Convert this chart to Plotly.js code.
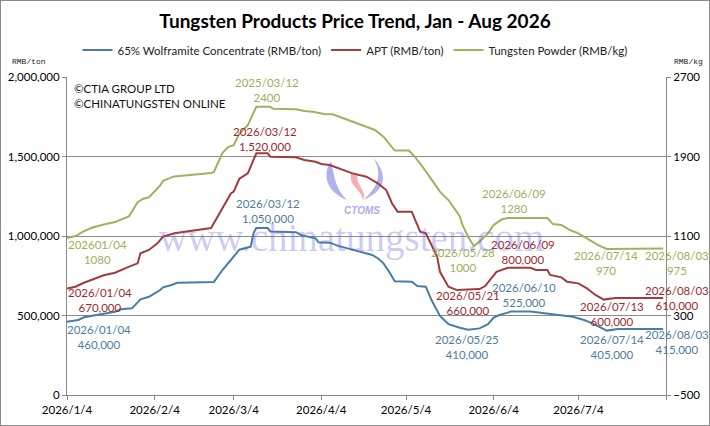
<!DOCTYPE html>
<html>
<head>
<meta charset="utf-8">
<script src="https://cdn.plot.ly/plotly-3.0.1.min.js"></script>
<style>
  html, body { margin: 0; padding: 0; background: #fff; }
  #wrap { position: relative; width: 710px; height: 426px; }
  #chart { width: 710px; height: 426px; }
  #frame { position: absolute; left: 0; top: 0; width: 708px; height: 424px;
           border: 1px solid #8a8a8a; pointer-events: none; }
</style>
</head>
<body>
<div id="wrap">
  <div id="chart"></div>
  <div id="frame"></div>
</div>
<script>
// 65% 黑钨精矿 (RMB/ton)
const wolfDates = ["2026-01-04","2026-01-08","2026-01-10","2026-01-17","2026-01-21","2026-01-23","2026-01-27",
  "2026-01-30","2026-02-02","2026-02-06","2026-02-07","2026-02-10","2026-02-12","2026-02-25","2026-02-28",
  "2026-03-03","2026-03-06","2026-03-10","2026-03-11","2026-03-12","2026-03-16","2026-03-17","2026-03-26",
  "2026-03-28","2026-04-02","2026-04-03","2026-04-07","2026-04-10","2026-04-15","2026-04-20","2026-04-22",
  "2026-04-24","2026-04-26","2026-04-28","2026-04-30","2026-05-06","2026-05-08","2026-05-11","2026-05-13",
  "2026-05-16","2026-05-19","2026-05-23","2026-05-26","2026-05-30","2026-06-02","2026-06-04","2026-06-06",
  "2026-06-09","2026-06-10","2026-06-17","2026-06-22","2026-06-27","2026-07-02","2026-07-06","2026-07-09",
  "2026-07-14","2026-07-18","2026-08-03"];
const wolfPrice = [460000,472000,489000,509000,524000,539000,545000,
  602000,618000,660000,677000,692000,706000,711000,786000,
  849000,914000,933000,1017000,1050000,1050000,1029000,1024000,
  1005000,985000,960000,958000,938000,915000,891000,881000,
  860000,828000,775000,715000,712000,685000,681000,597000,
  497000,446000,423000,410000,419000,445000,487000,503000,
  518000,525000,525000,514000,503000,492000,472000,451000,
  405000,415000,415000];

// APT (RMB/ton)
const aptDates = ["2026-01-04","2026-01-07","2026-01-10","2026-01-13","2026-01-17","2026-01-21","2026-01-23",
  "2026-01-26","2026-01-29","2026-01-30","2026-02-02","2026-02-05","2026-02-07","2026-02-11","2026-02-24",
  "2026-02-28","2026-03-03","2026-03-04","2026-03-06","2026-03-09","2026-03-12","2026-03-16","2026-03-17",
  "2026-03-26","2026-03-29","2026-04-02","2026-04-04","2026-04-07","2026-04-10","2026-04-15","2026-04-20",
  "2026-04-24","2026-04-27","2026-04-29","2026-05-01","2026-05-06","2026-05-09","2026-05-11","2026-05-15",
  "2026-05-16","2026-05-19","2026-05-22","2026-05-30","2026-06-01","2026-06-05","2026-06-09","2026-06-17",
  "2026-06-19","2026-06-23","2026-06-24","2026-06-28","2026-06-30","2026-07-04","2026-07-07","2026-07-10",
  "2026-07-13","2026-07-17","2026-08-03"];
const aptPrice = [670000,681000,706000,727000,753000,769000,786000,
  807000,828000,891000,912000,954000,996000,1017000,1050000,
  1174000,1268000,1279000,1360000,1394000,1520000,1520000,1499000,
  1495000,1478000,1467000,1453000,1446000,1426000,1394000,1373000,
  1331000,1289000,1206000,1153000,1153000,1027000,1017000,870000,
  775000,681000,660000,666000,685000,775000,800000,800000,
  786000,786000,755000,740000,712000,702000,671000,629000,
  600000,610000,610000];

// 钨粉 (RMB/kg)，右轴
const powderDates = ["2026-01-04","2026-01-07","2026-01-10","2026-01-13","2026-01-17","2026-01-21","2026-01-26",
  "2026-01-29","2026-01-31","2026-02-02","2026-02-06","2026-02-07","2026-02-10","2026-02-11","2026-02-24",
  "2026-02-25","2026-02-28","2026-03-02","2026-03-04","2026-03-06","2026-03-09","2026-03-12","2026-03-17",
  "2026-03-18","2026-03-26","2026-03-29","2026-04-01","2026-04-05","2026-04-08","2026-04-12","2026-04-17",
  "2026-04-19","2026-04-23","2026-04-26","2026-04-30","2026-05-05","2026-05-07","2026-05-10","2026-05-13",
  "2026-05-16","2026-05-19","2026-05-23","2026-05-24","2026-05-26","2026-05-28","2026-05-30","2026-06-02",
  "2026-06-04","2026-06-07","2026-06-09","2026-06-23","2026-06-25","2026-06-28","2026-07-01","2026-07-04",
  "2026-07-08","2026-07-11","2026-07-14","2026-08-03"];
const powderPrice = [1080,1100,1150,1185,1215,1240,1300,
  1440,1475,1490,1610,1655,1690,1700,1735,
  1745,1935,1995,2015,2130,2215,2400,2400,
  2380,2375,2358,2350,2328,2325,2284,2230,
  2215,2167,2100,1960,1960,1900,1790,1664,
  1546,1462,1300,1210,1090,1000,1043,1127,
  1211,1268,1280,1280,1220,1211,1160,1127,
  1060,1009,970,975];

const tickDates = ["2026-01-04","2026-02-04","2026-03-04","2026-04-04","2026-05-04","2026-06-04","2026-07-04","2026-08-04"];
const tickText = ["2026/1/4","2026/2/4","2026/3/4","2026/4/4","2026/5/4","2026/6/4","2026/7/4",""];
const leftTicks = [0, 500000, 1000000, 1500000, 2000000];
const rightTicks = [-500, 300, 1100, 1900, 2700];

// 数据标签：系列序号 0=精矿 1=APT 2=钨粉
const labelSeries = [2,2,2,2,2,2, 1,1,1,1,1,1, 0,0,0,0,0,0];
const labelText = [
  ["2025/03/12","2400"], ["202601/04","1080"], ["2026/05/28","1000"],
  ["2026/06/09","1280"], ["2026/07/14","970"], ["2026/08/03","975"],
  ["2026/03/12","1,520,000"], ["2026/01/04","670,000"], ["2026/05/21","660,000"],
  ["2026/06/09","800,000"], ["2026/07/13","600,000"], ["2026/08/03","610,000"],
  ["2026/03/12","1,050,000"], ["2026/01/04","460,000"], ["2026/05/25","410,000"],
  ["2026/06/10","525,000"], ["2026/07/14","405,000"], ["2026/08/03","415,000"]
];
// 标签中心位置（画布像素）
const labelPos = [
  [267,90], [97,252], [463,260], [514,201], [606,263], [677,263],
  [265,139], [100,300], [468,303], [523,252], [612,314], [677,298],
  [268,211], [99,337], [467,347], [524,295], [612,347], [677,342]
];

const M = { l: 67, r: 44, t: 77, b: 31 };
const W = 710, H = 426;
const PW = W - M.l - M.r, PH = H - M.t - M.b;
const px = (x) => (x - M.l) / PW;
const py = (y) => (H - M.b - y) / PH;

const lineColors = ["#4A7DA4", "#A33A3C", "#9DB35C"];
const textColors = ["#4E7C9E", "#9C2A2E", "#9BB05A"];
const FONT = "Lato, 'Liberation Sans', sans-serif";

const traces = [
  { x: wolfDates, y: wolfPrice, name: "65% Wolframite Concentrate (RMB/ton)", yaxis: "y" },
  { x: aptDates, y: aptPrice, name: "APT (RMB/ton)", yaxis: "y" },
  { x: powderDates, y: powderPrice, name: "Tungsten Powder (RMB/kg)", yaxis: "y2" },
].map((t, i) => ({
  ...t,
  type: "scatter",
  mode: "lines",
  line: { color: lineColors[i], width: 2 },
  hoverinfo: "skip",
}));

const annotations = labelText.map((t, i) => ({
  xref: "paper", yref: "paper",
  x: px(labelPos[i][0]), y: py(labelPos[i][1]),
  xanchor: "center", yanchor: "middle",
  text: t[0] + "<br>" + t[1],
  showarrow: false,
  font: { family: FONT, size: 11.5, color: textColors[labelSeries[i]] },
}));

annotations.push(
  { xref: "paper", yref: "paper", x: px(72), y: py(96), xanchor: "left", yanchor: "middle",
    align: "left", showarrow: false, text: "©CTIA GROUP LTD<br>©CHINATUNGSTEN ONLINE",
    font: { family: FONT, size: 11.5, color: "#111" } },
  { xref: "paper", yref: "paper", x: px(10), y: py(62), xanchor: "left", yanchor: "middle",
    showarrow: false, text: "RMB/ton", font: { family: "'Liberation Mono', monospace", size: 8, color: "#222" } },
  { xref: "paper", yref: "paper", x: px(672), y: py(62), xanchor: "left", yanchor: "middle",
    showarrow: false, text: "RMB/kg", font: { family: "'Liberation Mono', monospace", size: 8, color: "#222" } },
  { xref: "paper", yref: "paper", x: px(351), y: py(238), xanchor: "center", yanchor: "middle",
    showarrow: false, text: "www.chinatungsten.com",
    font: { family: "'Liberation Serif', serif", size: 39, color: "rgba(95,95,215,0.33)" } }
);

// CTOMS 水印标志
const logoSvg = `<svg xmlns="http://www.w3.org/2000/svg" width="80" height="70" viewBox="0 0 80 70">
<path d="M9,9 C0,22 4,40 25,48 C14,38 12,24 9,9 Z" fill="rgb(110,115,220)" fill-opacity="0.55"/>
<path d="M30,20 C24,32 40,38 41,48 C46,38 32,32 36,22 Z" fill="rgb(240,110,120)" fill-opacity="0.55"/>
<path d="M51,5 C62,18 70,36 41,48 C58,34 60,20 51,5 Z" fill="rgb(110,115,220)" fill-opacity="0.55"/>
<text x="40" y="62" text-anchor="middle" font-family="Liberation Sans, sans-serif" font-size="10"
 font-style="italic" font-weight="bold" fill="rgb(130,135,225)" fill-opacity="0.7">CTOMS</text>
</svg>`;

const layout = {
  width: W, height: H,
  margin: M,
  paper_bgcolor: "#fff",
  plot_bgcolor: "#fff",
  font: { family: FONT, size: 11.5, color: "#000" },
  showlegend: true,
  title: {
    text: "<b>Tungsten Products Price Trend, Jan - Aug 2026</b>",
    xref: "container", yref: "container", x: 0.5, y: 1 - 21 / H,
    xanchor: "center", yanchor: "middle",
    font: { family: FONT, size: 19, color: "#000" },
  },
  legend: {
    orientation: "h",
    xref: "container", yref: "container",
    x: 0.5, y: 1 - 50 / H, xanchor: "center", yanchor: "middle",
    font: { family: FONT, size: 11.5, color: "#222" },
    itemwidth: 30,
    bgcolor: "rgba(0,0,0,0)",
  },
  xaxis: {
    type: "date",
    range: ["2026-01-04", "2026-08-04"],
    tickvals: tickDates,
    ticktext: tickText,
    ticks: "outside", ticklen: 4, tickcolor: "#888",
    showline: true, linecolor: "#888", linewidth: 1,
    showgrid: false, zeroline: false,
    tickfont: { family: FONT, size: 11.5, color: "#000" },
    fixedrange: true,
  },
  yaxis: {
    range: [0, 2000000],
    tickvals: leftTicks,
    tickformat: ",d",
    ticks: "outside", ticklen: 4, tickcolor: "#888",
    showline: true, linecolor: "#888", linewidth: 1,
    showgrid: true, gridcolor: "#8c8c8c", gridwidth: 1,
    zeroline: false,
    tickfont: { family: FONT, size: 11.5, color: "#000" },
    fixedrange: true,
  },
  yaxis2: {
    overlaying: "y", side: "right",
    range: [-500, 2700],
    tickvals: rightTicks,
    ticks: "outside", ticklen: 4, tickcolor: "#888",
    showline: true, linecolor: "#888", linewidth: 1,
    showgrid: false, zeroline: false,
    tickfont: { family: FONT, size: 11.5, color: "#000" },
    fixedrange: true,
  },
  annotations,
  images: [{
    source: "data:image/svg+xml;charset=utf-8," + encodeURIComponent(logoSvg),
    xref: "paper", yref: "paper",
    x: px(322), y: py(152),
    sizex: 80 / PW, sizey: 70 / PH,
    xanchor: "left", yanchor: "top",
    sizing: "stretch", layer: "below",
  }],
};

Plotly.newPlot("chart", traces, layout, { displayModeBar: false, staticPlot: true });
</script>
</body>
</html>
